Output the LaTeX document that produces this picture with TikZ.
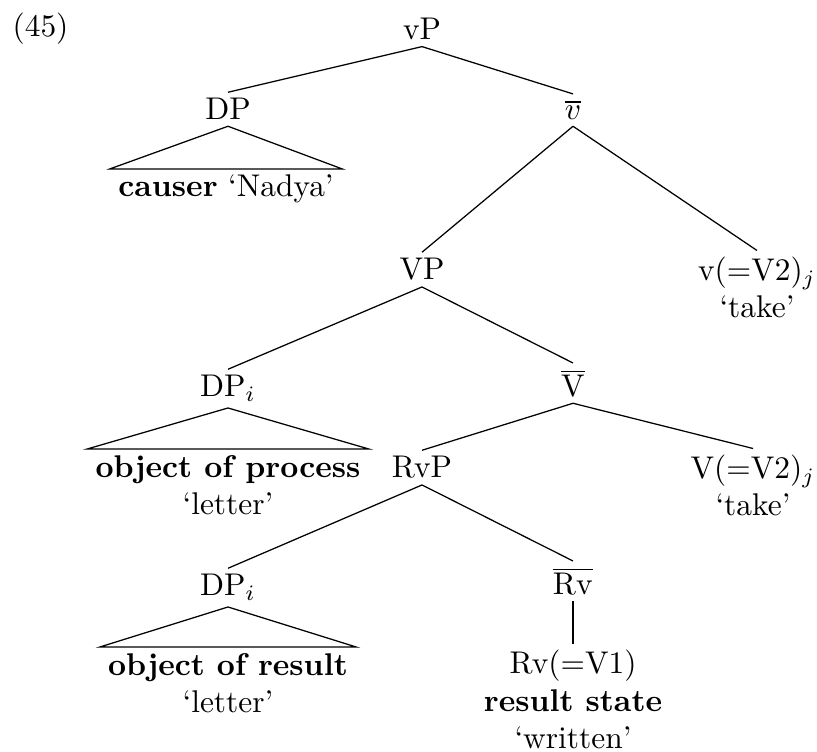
\documentclass[tikz,border=0pt]{standalone}
\usepackage{amsmath, amssymb}
\begin{document}
\begin{tikzpicture}
        [x=0.3185pt, y=-0.3185pt,
        cat/.style={anchor=base, inner xsep=1pt, inner ysep=1.8pt},
        leaf/.style={anchor=base, align=center, inner xsep=2.5pt, inner ysep=1.8pt},
        br/.style={line width=0.4pt}]
        \useasboundingbox (0, 0) rectangle (817, 752);
        \node (ex) at (12, 37) [anchor=base west, inner sep=0pt] {(45)};
        \node (vP) at (422, 40) [cat] {vP};
        \node (DP) at (228, 120) [cat] {DP};
        \node (causer) at (226, 197) [leaf] {\textbf{causer} ‘Nadya’};
        \node (vbar) at (573, 120) [cat] {$\overline{v}$};
        \node (VP) at (422, 280) [cat] {VP};
        \node (vVtwo) at (757, 318) [leaf] {v(=V2)$_j$\\‘take’};
        \node (DPi) at (228, 397) [cat] {DP$_i$};
        \node (proc) at (228, 515) [leaf] {\textbf{object of process}\\‘letter’};
        \node (Vbar) at (573, 397) [cat] {$\overline{\mathrm{V}}$};
        \node (RvP) at (422, 478) [cat] {RvP};
        \node (VVtwo) at (753, 516) [leaf] {V(=V2)$_j$\\‘take’};
        \node (DPj) at (228, 596) [cat] {DP$_i$};
        \node (res) at (228, 713) [leaf] {\textbf{object of result}\\‘letter’};
        \node (Rvbar) at (573, 595) [cat] {$\overline{\mathrm{Rv}}$};
        \node (RvVone) at (573, 749) [leaf] {Rv(=V1)\\\textbf{result state}\\‘written’};
        % branches
        \path (vP.south) edge[br] (DP.north)
                         edge[br] (vbar.north);
        \path (vbar.south) edge[br] (VP.north)
                           edge[br] (vVtwo.north);
        \path (VP.south) edge[br] (DPi.north)
                         edge[br] (Vbar.north);
        \path (Vbar.south) edge[br] (RvP.north)
                           edge[br] (VVtwo.north);
        \path (RvP.south) edge[br] (DPj.north)
                          edge[br] (Rvbar.north);
        \path (Rvbar.south) edge[br] (RvVone.north);
        % roofs
        \draw[br] (DP.south) -- (causer.north west) -- (causer.north east) -- cycle;
        \draw[br] (DPi.south) -- (proc.north west) -- (proc.north east) -- cycle;
        \draw[br] (DPj.south) -- (res.north west) -- (res.north east) -- cycle;
     \end{tikzpicture}
\end{document}
